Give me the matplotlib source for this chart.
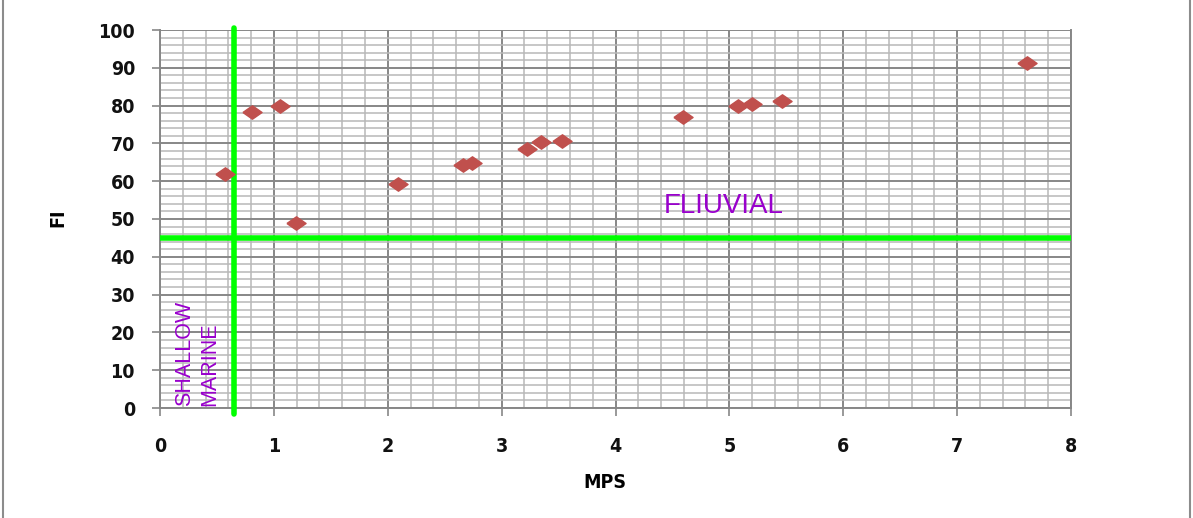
import matplotlib
matplotlib.use("Agg")
import matplotlib.pyplot as plt
import numpy as np
from matplotlib.lines import Line2D
from matplotlib.ticker import MultipleLocator

# sample values: mean phi size vs fluvial index
mps = [0.57, 0.81, 1.05, 1.19, 2.09, 2.66, 2.74, 3.22, 3.35, 3.53,
       4.59, 5.08, 5.20, 5.46, 7.61]
fi = [62.0, 78.3, 79.9, 48.9, 59.3, 64.3, 64.8, 68.5, 70.4, 70.6,
      77.0, 79.9, 80.4, 81.2, 91.3]

x_split = 0.65
y_split = 45

tick_font = dict(family=["Liberation Sans Narrow", "DejaVu Sans"],
                 stretch="condensed", weight="semibold")

fig = plt.figure(figsize=(11.93, 5.18), dpi=100)
ax = fig.add_axes([160 / 1193, 1 - 408 / 518, 911 / 1193, 378 / 518])

ax.set_xlim(0, 8)
ax.set_ylim(0, 100)
ax.xaxis.set_major_locator(MultipleLocator(1))
ax.xaxis.set_minor_locator(MultipleLocator(0.2))
ax.yaxis.set_major_locator(MultipleLocator(10))
ax.yaxis.set_minor_locator(MultipleLocator(2))
ax.grid(which="major", color="#878787", linewidth=1.4)
ax.grid(which="minor", color="#b8b8b8", linewidth=1.1)
ax.set_axisbelow(True)

ax.spines["top"].set_visible(False)
for side in ("left", "right", "bottom"):
    ax.spines[side].set_color("#878787")
    ax.spines[side].set_linewidth(1.4)

ax.tick_params(which="major", length=6, width=1.2, color="#878787",
               labelsize=14, labelcolor="#111111")
ax.tick_params(axis="x", which="major", pad=15)
ax.tick_params(axis="y", which="major", pad=12)
ax.tick_params(which="minor", length=0)
for lab in ax.get_xticklabels() + ax.get_yticklabels():
    lab.set_family(tick_font["family"])
    lab.set_stretch("condensed")
    lab.set_weight("semibold")
    lab.set_size(14)

# boundary lines between the two environments
ax.axhline(y_split, color="#00ff00", linewidth=4, zorder=3)
ax.plot([x_split, x_split], [-1.5, 100.5], color="#00ff00", linewidth=4,
        solid_capstyle="round", clip_on=False, zorder=3)

diamond = [(-1, 0), (0, 0.7), (1, 0), (0, -0.7), (-1, 0)]
ax.scatter(mps, fi, marker=diamond, s=190, color="#c0504d",
           edgecolors="#c0504d", zorder=4)

purple = "#9900cc"
ax.text(4.95, 53.5, "FLIUVIAL", color=purple, fontsize=20,
        family="Liberation Sans", ha="center", va="center")
ax.text(0.22, 0.5, "SHALLOW", color=purple, fontsize=15.5, rotation=90,
        family="Liberation Sans", ha="center", va="bottom")
ax.text(0.44, 0.5, "MARINE", color=purple, fontsize=15.5, rotation=90,
        family="Liberation Sans", ha="center", va="bottom")

fig.text(58 / 1193, 1 - 218 / 518, "FI", rotation=90, ha="center",
         va="center", fontsize=14, **tick_font)
fig.text(605 / 1193, 1 - 482 / 518, "MPS", ha="center", va="center",
         fontsize=14, **tick_font)

# outer frame edges
fig.add_artist(Line2D([3 / 1193, 3 / 1193], [0, 1], color="#8c8c8c",
                      linewidth=1.5, transform=fig.transFigure))
fig.add_artist(Line2D([1190 / 1193, 1190 / 1193], [0, 1], color="#8c8c8c",
                      linewidth=1.5, transform=fig.transFigure))

fig.savefig("out.png", dpi=100)
